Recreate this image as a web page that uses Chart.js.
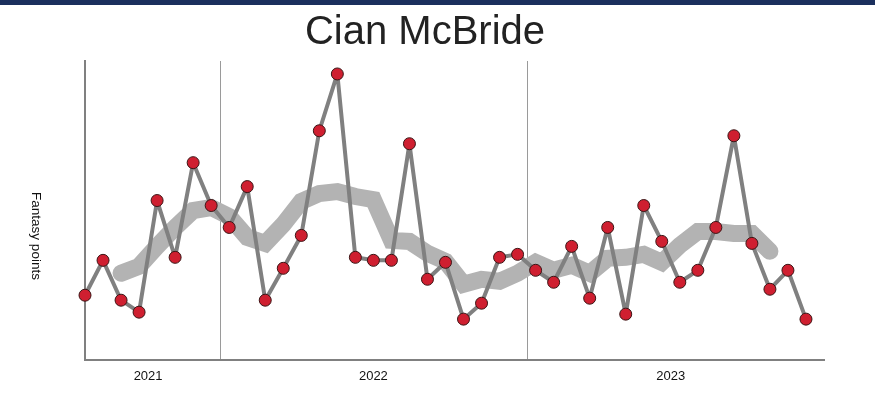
<!DOCTYPE html>
<html>
<head>
<meta charset="utf-8">
<script src="https://cdn.jsdelivr.net/npm/chart.js@4/dist/chart.umd.min.js"></script>
<style>
html,body{margin:0;padding:0;background:#fff;}
#c{display:block;}
</style>
</head>
<body>
<canvas id="c" width="875" height="394"></canvas>
<script>
// ---- data ----
const playerName = 'Cian McBride';
const yAxisTitle = 'Fantasy points';
const seasons = ['2021', '2022', '2023'];
const seasonGames = [8, 17, 16];
const fantasyPoints = [
  6.5, 10.0, 6.0, 4.8, 16.0, 10.3, 19.8, 15.5,
  13.3, 17.4, 6.0, 9.2, 12.5, 23.0, 28.7, 10.3, 10.0, 10.0, 21.7, 8.1, 9.8, 4.1, 5.7, 10.3, 10.6,
  9.0, 7.8, 11.4, 6.2, 13.3, 4.6, 15.5, 11.9, 7.8, 9.0, 13.3, 22.5, 11.7, 7.1, 9.0, 4.1
];
// rolling form band (as drawn), starting at game index 2
const formStart = 2;
const formValues = [
  8.7, 9.4, 11.4, 13.3, 15.0, 15.3, 14.4, 12.3, 11.7, 13.6, 15.9, 16.7, 16.9, 16.4, 16.1,
  12.0, 11.9, 10.7, 9.9, 7.6, 8.1, 7.9, 8.7, 9.8, 9.0, 9.5, 8.7, 10.2, 10.3, 10.6, 9.8,
  11.5, 12.9, 12.9, 12.7, 12.7, 10.9
];

// ---- derived structures ----
const mainData = fantasyPoints.map((v, i) => ({x: i, y: v}));
const formData = formValues.map((v, i) => ({x: i + formStart, y: v}));
const seasonBounds = [];
let acc = 0;
const seasonCenters = [];
seasonGames.forEach((n) => {
  seasonCenters.push(acc - 0.5 + n / 2);
  acc += n;
  seasonBounds.push(acc - 0.5);
});
seasonBounds.pop();

const FONT = '"Liberation Sans", Arial, Helvetica, sans-serif';

const decor = {
  id: 'decor',
  beforeDraw(chart) {
    const ctx = chart.ctx;
    const area = chart.chartArea;
    const xs = chart.scales.x;
    ctx.save();
    ctx.fillStyle = '#1b2f5d';
    ctx.fillRect(0, 0, chart.width, 5);
    // title
    ctx.fillStyle = '#222222';
    ctx.font = '40px ' + FONT;
    ctx.textAlign = 'center';
    ctx.textBaseline = 'alphabetic';
    ctx.fillText(playerName, 425, 44);
    // y title rotated clockwise
    ctx.save();
    ctx.translate(35.5, 236);
    ctx.rotate(Math.PI / 2);
    ctx.font = '13.5px ' + FONT;
    ctx.fillStyle = '#111111';
    ctx.textBaseline = 'middle';
    ctx.fillText(yAxisTitle, 0, 0);
    ctx.restore();
    // season separators
    ctx.strokeStyle = '#9a9a9a';
    ctx.lineWidth = 1;
    seasonBounds.forEach((b) => {
      const px = Math.round(xs.getPixelForValue(b)) + 0.5;
      ctx.beginPath();
      ctx.moveTo(px, area.top);
      ctx.lineTo(px, area.bottom);
      ctx.stroke();
    });
    ctx.restore();
  }
};

new Chart(document.getElementById('c'), {
  type: 'line',
  data: {
    datasets: [
      {
        data: mainData,
        borderColor: '#808080',
        borderWidth: 4,
        borderJoinStyle: 'round',
        borderCapStyle: 'round',
        tension: 0,
        pointRadius: 6,
        pointBorderWidth: 1,
        pointBackgroundColor: '#cf1f30',
        pointBorderColor: '#3a1515',
        pointHoverRadius: 6,
        clip: false
      },
      {
        data: formData,
        borderColor: '#b3b3b3',
        borderWidth: 17,
        borderCapStyle: 'round',
        borderJoinStyle: 'miter',
        tension: 0,
        pointRadius: 0,
        clip: false
      }
    ]
  },
  options: {
    responsive: false,
    devicePixelRatio: 1,
    animation: false,
    events: [],
    layout: {padding: {left: 0, right: 51, top: 61, bottom: 0}},
    plugins: {legend: {display: false}, title: {display: false}, tooltip: {enabled: false}},
    scales: {
      x: {
        type: 'linear',
        min: 0,
        max: 41,
        grid: {display: false, drawTicks: false},
        border: {display: true, color: '#808080', width: 2},
        afterFit(s) { s.height = 34; },
        afterBuildTicks(s) { s.ticks = seasonCenters.map((c) => ({value: c})); },
        ticks: {
          autoSkip: false,
          maxRotation: 0,
          padding: 9,
          color: '#111111',
          font: {family: FONT, size: 13},
          callback(v) {
            const i = seasonCenters.indexOf(v);
            return i >= 0 ? seasons[i] : '';
          }
        }
      },
      y: {
        min: 0,
        max: 30,
        grid: {display: false, drawTicks: false},
        border: {display: true, color: '#808080', width: 2},
        ticks: {display: false},
        afterFit(s) { s.width = 85; }
      }
    }
  },
  plugins: [decor]
});
</script>
</body>
</html>
